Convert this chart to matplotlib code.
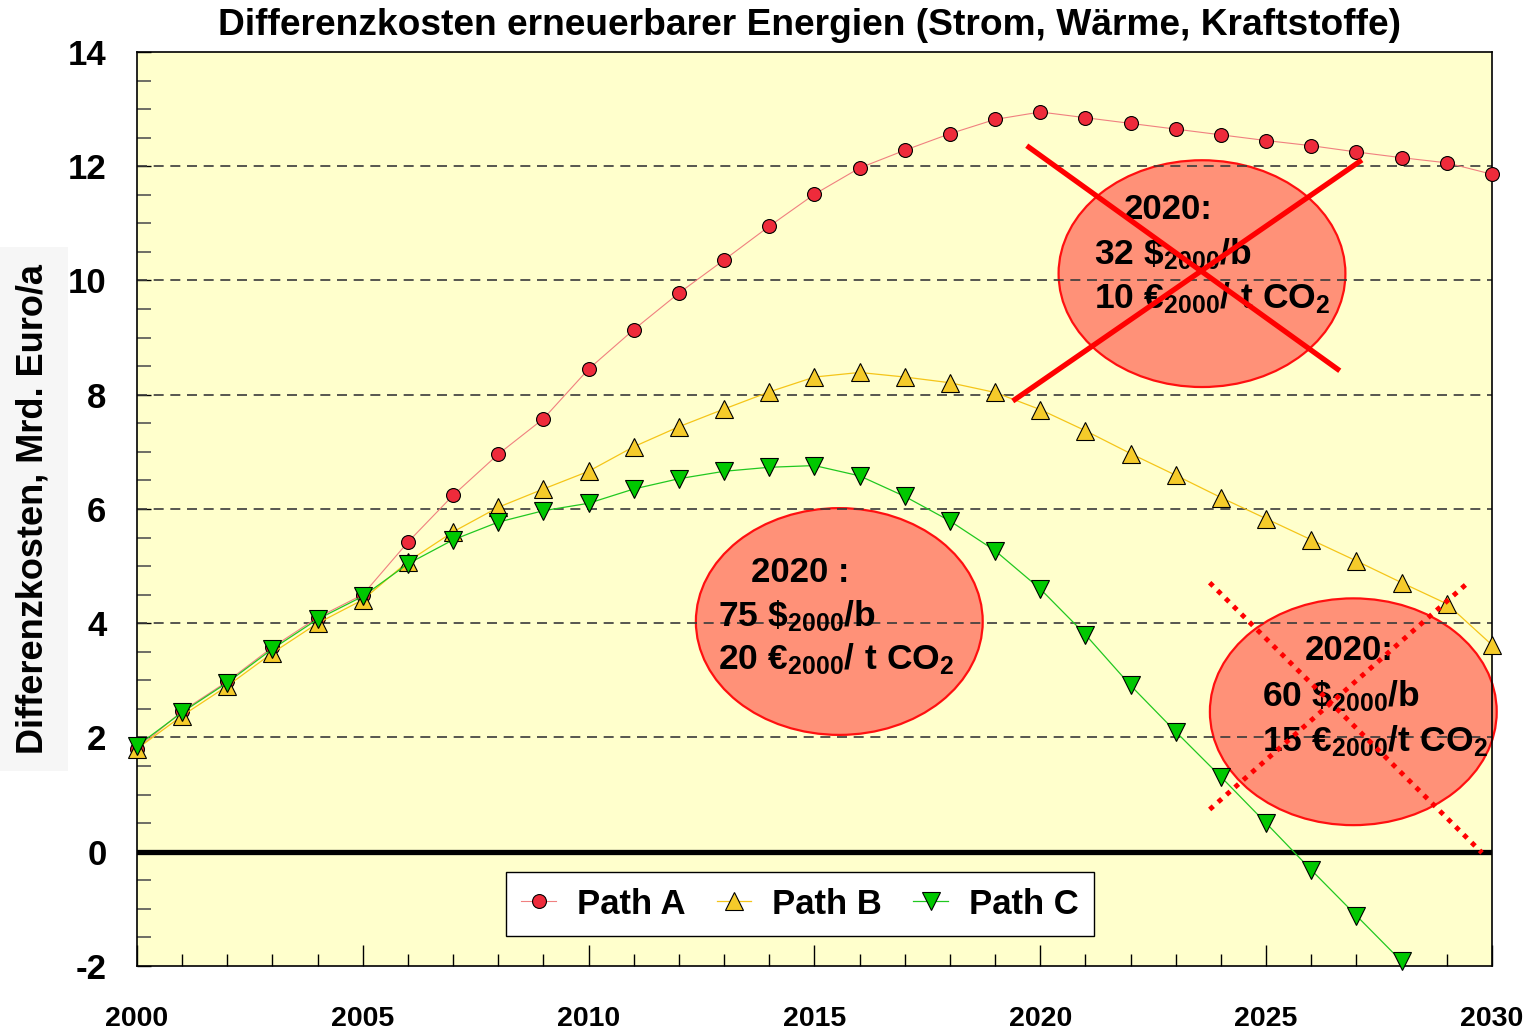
import matplotlib
matplotlib.use("Agg")
import matplotlib.pyplot as plt
from matplotlib.patches import Ellipse

plt.rcParams['font.family'] = ['Liberation Sans', 'DejaVu Sans']
plt.rcParams['font.weight'] = 'bold'
plt.rcParams['axes.unicode_minus'] = False
plt.rcParams['mathtext.fontset'] = 'custom'
plt.rcParams['mathtext.rm'] = 'Liberation Sans:bold'
plt.rcParams['mathtext.it'] = 'Liberation Sans:bold'
plt.rcParams['mathtext.bf'] = 'Liberation Sans:bold'

# data
years = list(range(2000, 2031))
path_a = [1.8, 2.46, 2.98, 3.58, 4.1, 4.5, 5.42, 6.24, 6.96, 7.58, 8.45,
          9.14, 9.78, 10.36, 10.95, 11.51, 11.97, 12.28, 12.57, 12.82, 12.95,
          12.85, 12.75, 12.65, 12.55, 12.45, 12.36, 12.25, 12.15, 12.06, 11.86]
path_b = [1.8, 2.38, 2.9, 3.48, 4.0, 4.41, 5.08, 5.6, 6.03, 6.35, 6.66,
          7.09, 7.44, 7.75, 8.05, 8.31, 8.39, 8.31, 8.21, 8.04, 7.74,
          7.37, 6.97, 6.59, 6.2, 5.83, 5.46, 5.09, 4.71, 4.34, 3.62]
years_c = list(range(2000, 2029))
path_c = [1.85, 2.44, 2.96, 3.55, 4.07, 4.47, 5.04, 5.46, 5.77, 5.97, 6.1,
          6.35, 6.53, 6.66, 6.73, 6.76, 6.58, 6.22, 5.79, 5.27, 4.6,
          3.8, 2.91, 2.1, 1.31, 0.5, -0.32, -1.12, -1.92]

x_ticks = [2000, 2005, 2010, 2015, 2020, 2025, 2030]
y_ticks = [-2, 0, 2, 4, 6, 8, 10, 12, 14]

# scenario boxes: label lines
box_1 = ['2020:', r'$32\ \$_{2000}/b$', r'$10\ €_{2000}/\ t\ CO_2$']
box_2 = ['2020 :', r'$75\ \$_{2000}/b$', r'$20\ €_{2000}/\ t\ CO_2$']
box_3 = ['2020:', r'$60\ \$_{2000}/b$', r'$15\ €_{2000}/t\ CO_2$']

fig = plt.figure(figsize=(15.37, 10.32), dpi=100)
ax = fig.add_axes([0.0891, 0.0640, 0.8816, 0.8856])
ax.set_facecolor('#FFFFCC')

# grid
for v in [2, 4, 6, 8, 10, 12]:
    ax.axhline(v, color='#3a3a3a', lw=1.2, ls=(0, (6, 4)), zorder=1.6)
ax.axhline(0, color='black', lw=3.8, zorder=1.7)

# ellipses
ell_kw = dict(facecolor='#FF9178', edgecolor='#FF1010', lw=1.6, zorder=1.5, clip_on=False)
ax.add_patch(Ellipse((2023.58, 10.12), 6.35, 3.97, **ell_kw))
ax.add_patch(Ellipse((2015.55, 4.03), 6.35, 3.97, **ell_kw))
ax.add_patch(Ellipse((2026.93, 2.45), 6.35, 3.97, **ell_kw))

# lines
ax.plot(years, path_a, color='#F08080', lw=0.8, marker='o', ms=10,
        mfc='#EE2B3B', mec='black', mew=0.8, zorder=3, label='Path A', clip_on=False)
ax.plot(years, path_b, color='#F5C518', lw=0.9, marker='^', ms=13,
        mfc='#F5CB2A', mec='black', mew=0.8, zorder=3, label='Path B', clip_on=False)
ax.plot(years_c, path_c, color='#20C820', lw=0.9, marker='v', ms=13,
        mfc='#00C800', mec='black', mew=0.8, zorder=3, label='Path C', clip_on=False)

# text in ellipses
def put_box(lines, x0, x_first, ys):
    ax.text(x_first, ys[0], lines[0], fontsize=25, ha='left', va='baseline', zorder=4)
    for s, y in zip(lines[1:], ys[1:]):
        ax.text(x0, y, s, fontsize=25.5, ha='left', va='baseline', zorder=4)

put_box(box_1, 2021.18, 2021.85, [11.08, 10.29, 9.52])
put_box(box_2, 2012.86, 2013.59, [4.73, 3.95, 3.19])
put_box(box_3, 2024.91, 2025.85, [3.35, 2.55, 1.75])

# crosses
ax.plot([2019.70, 2026.63], [12.36, 8.42], color='#FF0000', lw=3.8, zorder=5, solid_capstyle='butt')
ax.plot([2019.39, 2027.12], [7.89, 12.11], color='#FF0000', lw=3.8, zorder=5, solid_capstyle='butt')
ax.plot([2023.75, 2029.78], [4.71, -0.02], color='#FF0000', lw=3.5, ls=(0, (1, 1.3)), zorder=5)
ax.plot([2023.75, 2029.47], [0.74, 4.71], color='#FF0000', lw=3.5, ls=(0, (1, 1.3)), zorder=5)

# axes
ax.set_xlim(2000, 2030)
ax.set_ylim(-2, 14)
ax.set_xticks(x_ticks)
ax.set_xticks(years, minor=True)
ax.set_yticks(y_ticks)
ax.set_yticks([v / 2 for v in range(-4, 29)], minor=True)
ax.tick_params(axis='x', which='major', direction='in', length=15, width=1, pad=29, labelsize=20.5)
ax.tick_params(axis='x', which='minor', direction='in', length=9, width=1)
ax.tick_params(axis='y', which='major', direction='in', length=10, width=1, pad=22, labelsize=25)
ax.tick_params(axis='y', which='minor', direction='in', length=10, width=1.2, color='#555')
for sp in ax.spines.values():
    sp.set_linewidth(1.2)

ax.set_ylabel('Differenzkosten, Mrd. Euro/a', fontsize=26, fontweight='bold', labelpad=12,
              bbox=dict(facecolor='#F6F6F6', edgecolor='none', pad=12))

fig.text(0.527, 0.975, 'Differenzkosten erneuerbarer Energien (Strom, Wärme, Kraftstoffe)',
         ha='center', va='center', fontsize=26.7)

leg = ax.legend(loc='center', bbox_to_anchor=(0.5205, 0.124), bbox_transform=fig.transFigure,
                ncol=3, fontsize=25, frameon=True, fancybox=False, edgecolor='black',
                framealpha=1, handlelength=1.0, handletextpad=0.6, columnspacing=0.9,
                borderpad=0.45)
leg.get_frame().set_linewidth(1.0)
leg.set_zorder(6)

fig.savefig('out.png', dpi=100)
